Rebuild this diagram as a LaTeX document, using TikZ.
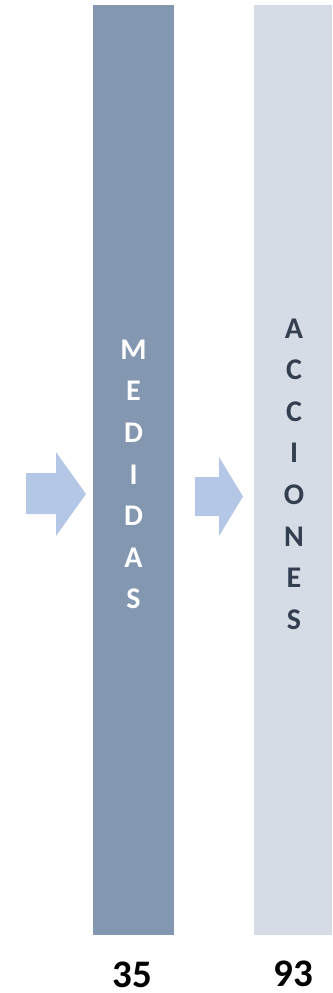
\documentclass[tikz,border=0pt]{standalone}
\usepackage{fontspec}
\setmainfont{Carlito}
\usepackage{tikz}
\usetikzlibrary{positioning}

\definecolor{medidasgray}{HTML}{8497B0}
\definecolor{accionesgray}{HTML}{D6DCE5}
\definecolor{arrowblue}{HTML}{B4C7E7}
\definecolor{accionestext}{HTML}{333F50}

\tikzset{
	barletters/.style={align=center, inner sep=0pt, font=\fontsize{30}{41.6}\selectfont\bfseries},
	bignum/.style={inner sep=0pt, font=\fontsize{39}{46}\selectfont\bfseries},
	blockarrow/.style={fill=arrowblue, draw=none}
}

\begin{document}
\begin{tikzpicture}[x=1pt, y=-1pt]
			\useasboundingbox (0,0) rectangle (332,993);

			% the two bars
			\fill[medidasgray] (93,5) rectangle (174,935);
			\fill[accionesgray] (254,5) rectangle (332,935);

			\node[barletters, text=white] (medidas) at (133.5,474.5){M\\E\\D\\I\\D\\A\\S};
			\node[barletters, text=accionestext] (acciones) at (294,474){A\\C\\C\\I\\O\\N\\E\\S};

			% arrows
			\fill[blockarrow] (26,473) -- (56,473) -- (56,452) -- (86,494)
				-- (56,536) -- (56,514) -- (26,514) -- cycle;
			\fill[blockarrow] (195,477) -- (219,477) -- (219,457) -- (243,496.5)
				-- (219,536) -- (219,516) -- (195,516) -- cycle;

			\node[bignum] (nmedidas) at (132.5,974.5){35};
			\node[bignum] (nacciones) at (293,974){93};

		\end{tikzpicture}
\end{document}
